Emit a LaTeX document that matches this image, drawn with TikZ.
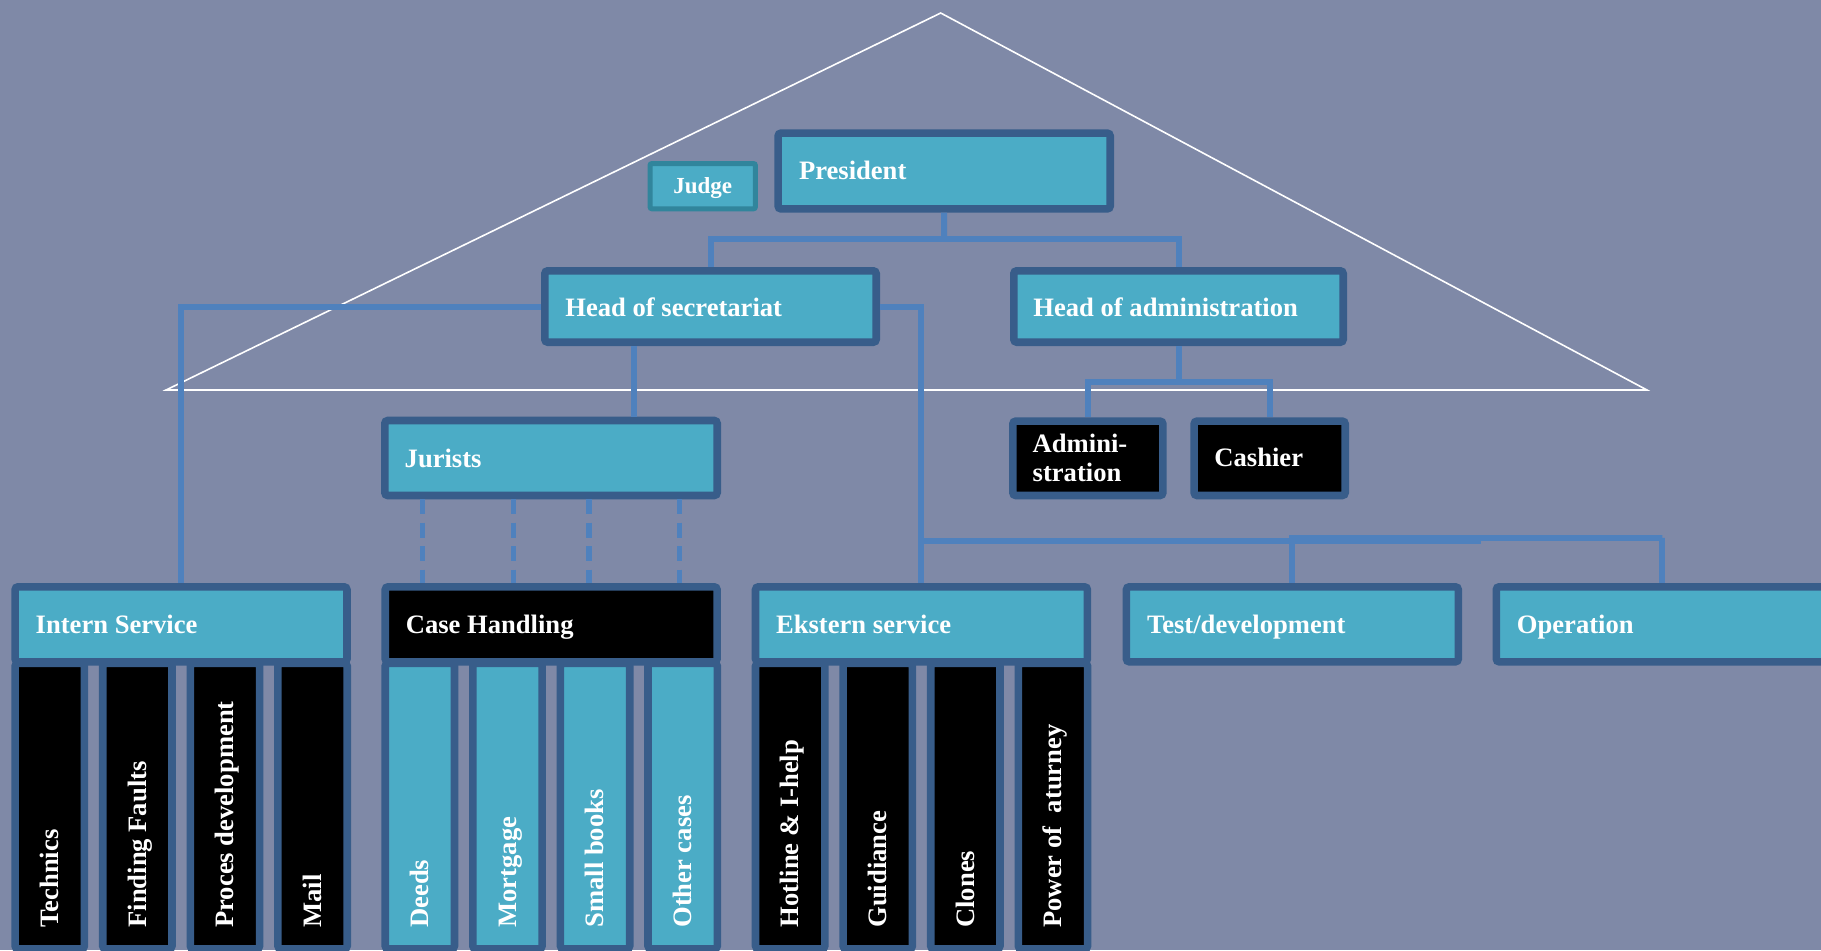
\documentclass[tikz,border=0pt]{standalone}
\usepackage{fontspec}
\setmainfont{Liberation Serif}
\usetikzlibrary{calc}
\definecolor{cbg}{HTML}{7F89A7}
\definecolor{cteal}{HTML}{4BACC6}
\definecolor{cborder}{HTML}{385D8A}
\definecolor{cline}{HTML}{4F81BD}
\definecolor{cjudge}{HTML}{31859C}
\newcommand{\mkbox}[7]{%
  \pgfmathsetmacro\mkw{(#4-#2)*0.5-#7}%
  \pgfmathsetmacro\mkh{(#5-#3)*0.5-#7}%
  \pgfmathsetmacro\mkx{(#2+#4)/2}%
  \pgfmathsetmacro\mky{(#3+#5)/2}%
  \pgfmathsetmacro\mko{#7/2}%
  \node[#6, line width=#7pt, outer sep=\mko pt, inner sep=0pt,
        minimum width=\mkw pt, minimum height=\mkh pt] (#1) at (\mkx,\mky) {};%
}
\newcommand{\mkcols}[3]{%
  \foreach \i in {0,1,2,3}{%
    \pgfmathsetmacro\cxl{#2+87.6*\i}%
    \pgfmathsetmacro\cxr{\cxl+76.9}%
    \mkbox{#1c\i}{\cxl}{659.4}{\cxr}{952.6}{#3}{3.8}%
  }%
}
\tikzset{
  tealbox/.style={draw=cborder, fill=cteal, rounded corners=1.5pt},
  blackbox/.style={draw=cborder, fill=black, rounded corners=1.5pt},
  judgebox/.style={draw=cjudge, fill=cteal, rounded corners=1pt},
  conn/.style={draw=cline, line width=3pt},
  dconn/.style={draw=cline, line width=2.7pt, dash pattern=on 7.5pt off 4.2pt},
  txt/.style={text=white, font=\fontsize{13.3}{16}\selectfont\bfseries, inner sep=0pt, anchor=base west},
  vtxt/.style={txt, rotate=90},
}
\begin{document}
\begin{tikzpicture}[x=0.5pt,y=-0.5pt]
\useasboundingbox (0,0) rectangle (1821,950);
\fill[cbg] (0,0) rectangle (1821,950);
\clip (0,0) rectangle (1821,950);
% roof
\draw[white, line width=0.8pt, line join=miter] (940.7,13) -- (1647,390) -- (166,390) -- cycle;
% upper boxes
\mkbox{pres}{774.3}{129.3}{1114}{212.7}{tealbox}{3.8}
\mkbox{judge}{647.5}{161}{757.9}{211.3}{judgebox}{2.5}
\mkbox{hos}{541}{267}{880}{346}{tealbox}{3.8}
\mkbox{hoa}{1010}{267}{1347}{346}{tealbox}{3.8}
\mkbox{jur}{381}{416.7}{721}{499.3}{tealbox}{3.8}
\mkbox{adm}{1009}{417.3}{1166.7}{499.3}{blackbox}{3.8}
\mkbox{cash}{1190.3}{417.3}{1349}{499.3}{blackbox}{3.8}
% bottom groups: columns then headers
\mkcols{int}{11.3}{blackbox}
\mkcols{cas}{381.4}{tealbox}
\mkcols{ext}{751.7}{blackbox}
\mkbox{intern}{11.3}{583}{350.8}{665.6}{tealbox}{3.8}
\mkbox{case}{381.4}{583}{720.9}{665.6}{blackbox}{3.8}
\mkbox{ext}{751.7}{583}{1091.2}{665.6}{tealbox}{3.8}
\mkbox{test}{1122.6}{583}{1462.1}{665.6}{tealbox}{3.8}
\mkbox{op}{1492.5}{583}{1832}{665.6}{tealbox}{3.8}
% helper coordinates
\coordinate (pbus) at (944.2,239);
\coordinate (abus) at (1178.5,382);
\coordinate (jtop) at (634,416.7);
\coordinate (ebus) at (921.5,541);
\coordinate (ejog) at (1481,541);
\coordinate (obus) at (1662.3,538.3);
\coordinate (d1) at (422.7,0);
\coordinate (d2) at (513.3,0);
\coordinate (d3) at (589,0);
\coordinate (d4) at (679.3,0);
% connectors
\draw[conn] (pres.south) -- (pbus);
\draw[conn] (hos.north) |- (pbus) -| (hoa.north);
\draw[conn] (hoa.south) -- (abus);
\draw[conn] (adm.north) |- (abus) -| (cash.north);
\draw[conn] (hos.south -| jtop) -- (jtop);
\draw[conn] (hos.west) -| (intern.north);
\draw[conn] (hos.east) -| (ext.north);
\draw[conn] (ebus) -- (ejog);
\draw[conn] (test.north) |- (obus) -| (op.north);
\draw[dconn] (jur.south -| d1) -- (case.north -| d1);
\draw[dconn] (jur.south -| d2) -- (case.north -| d2);
\draw[dconn] (jur.south -| d3) -- (case.north -| d3);
\draw[dconn] (jur.south -| d4) -- (case.north -| d4);
% texts
\node[txt] (tpres) at (798.6,179.3) {President};
\node[txt, font=\fontsize{11.5}{14}\selectfont\bfseries, anchor=base] (tjudge) at (702.7,193.5) {Judge};
\node[txt] (thos) at (565,316) {Head of secretariat};
\node[txt] (thoa) at (1033,316) {Head of administration};
\node[txt] (tjur) at (404.3,467) {Jurists};
\node[txt] (tadm1) at (1032.3,452.3) {Admini-};
\node[txt] (tadm2) at (1032.3,481) {stration};
\node[txt] (tcash) at (1214,466.7) {Cashier};
\node[txt] (tintern) at (35.3,633) {Intern Service};
\node[txt] (tcase) at (405.4,633) {Case Handling};
\node[txt] (text) at (775.7,633) {Ekstern service};
\node[txt] (ttest) at (1146.6,633) {Test/development};
\node[txt] (top) at (1516.5,633) {Operation};
\foreach \i/\t in {0/Technics,1/Finding Faults,2/Proces development,3/Mail}{
  \pgfmathsetmacro\tx{11.3+87.6*\i+38.45+8.8}
  \node[vtxt] (vi\i) at (\tx,928) {\t};
}
\foreach \i/\t in {0/Deeds,1/Mortgage,2/Small books,3/Other cases}{
  \pgfmathsetmacro\tx{381.4+87.6*\i+38.45+8.8}
  \node[vtxt] (vc\i) at (\tx,928) {\t};
}
\foreach \i/\t in {0/Hotline \& I-help,1/Guidiance,2/Clones,3/Power of\ \ aturney}{
  \pgfmathsetmacro\tx{751.7+87.6*\i+38.45+8.8}
  \node[vtxt] (ve\i) at (\tx,928) {\t};
}
\end{tikzpicture}
\end{document}
